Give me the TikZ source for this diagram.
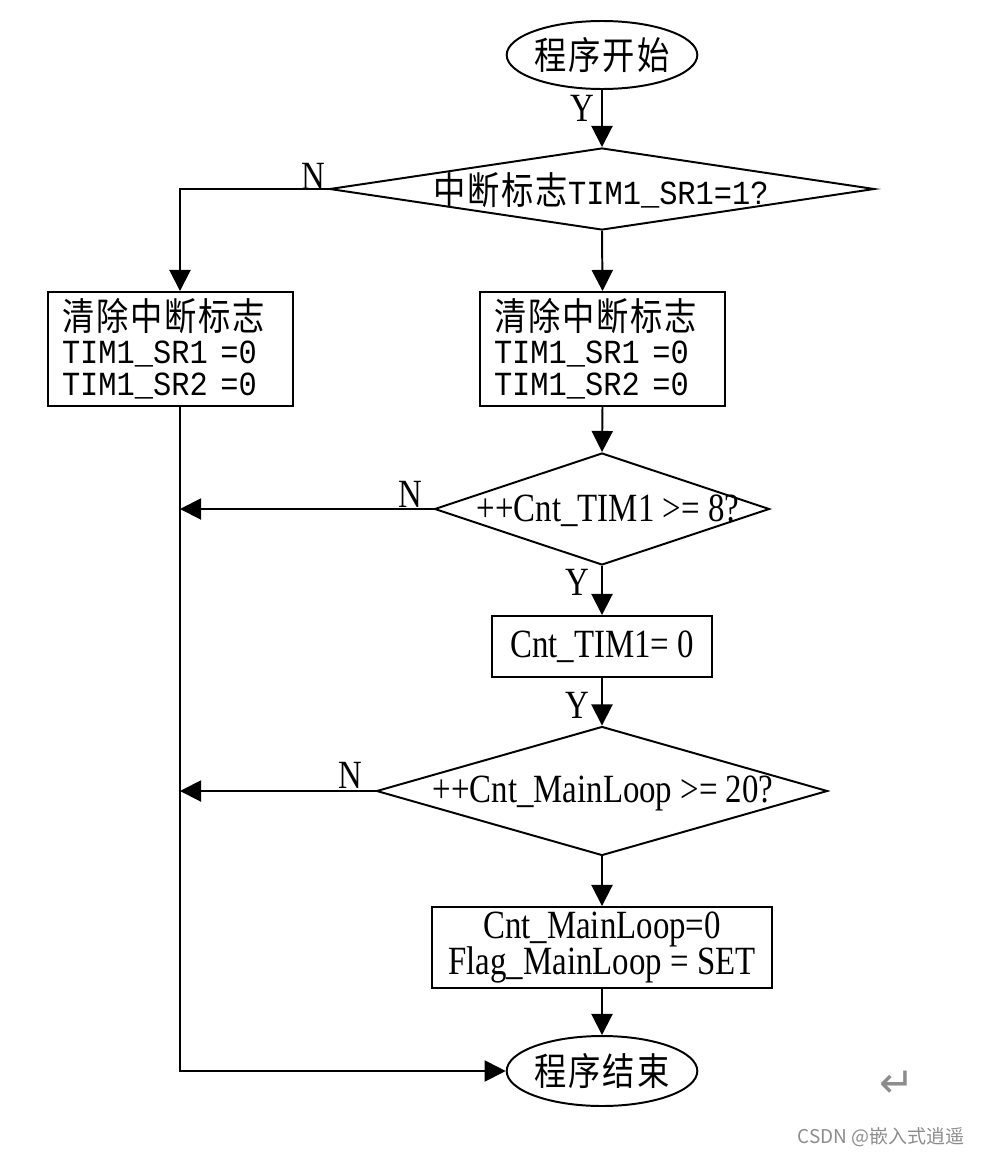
\documentclass[tikz,border=0pt]{standalone}
\usepackage{fontspec}
\setmainfont{Liberation Serif}
\newfontfamily\cjk[FakeStretch=0.85,LetterSpace=5]{Noto Sans CJK SC}
\newfontfamily\tnr[FakeStretch=0.82]{Liberation Serif}
\newfontfamily\monoft[FakeStretch=0.9]{Liberation Mono}
\newfontfamily\wmfont{Noto Sans CJK SC}
\newfontfamily\dvs{DejaVu Sans}
\newcommand\regtext{\monoft\fontsize{24}{24}\selectfont}
\usetikzlibrary{shapes.geometric,arrows.meta}
\newlength\px
\setlength\px{0.025cm}

\begin{document}
\begin{tikzpicture}[x=0.025cm,y=-0.025cm,
    line width=1.4pt,
    >={Triangle[length=15pt,width=15pt]},
    term/.style={draw,ellipse,inner sep=0pt,minimum width=185\px,minimum height=68\px,
      font=\cjk\fontsize{27}{27}\selectfont},
    dia/.style={draw,diamond,inner sep=0pt},
    proc/.style={draw,rectangle,inner sep=0pt,font=\tnr\fontsize{28.5}{26}\selectfont},
    clrbox/.style={draw,rectangle,inner xsep=14\px,inner ysep=0pt,text width=217\px,
      minimum height=114\px,align=left,font=\fontsize{27}{23}\selectfont},
    dtext/.style={inner sep=0pt,font=\tnr\fontsize{28.5}{28.5}\selectfont},
    lab/.style={inner sep=0pt,font=\tnr\fontsize{28.5}{28.5}\selectfont}]
  \useasboundingbox (0,0) rectangle (981,1157);

      \node[term] (start) at (602,55) {程序开始};

      \node[dia,minimum width=545\px,minimum height=82\px] (d1) at (602,189) {};
      \node[dtext,font=\fontsize{27}{27}\selectfont] (d1t) at (601,190) {{\cjk 中断标志}{\regtext TIM1\_SR1=1?}};

      \node[clrbox] (lbox) at (170.5,349) {{\cjk 清除中断标志}\\{\regtext TIM1\_SR1 =0}\\{\regtext TIM1\_SR2 =0}};
      \node[clrbox] (rbox) at (602.5,349) {{\cjk 清除中断标志}\\{\regtext TIM1\_SR1 =0}\\{\regtext TIM1\_SR2 =0}};

      \node[dia,minimum width=335\px,minimum height=112\px] (d2) at (602,509) {};
      \node[dtext] (d2t) at (608,511) {++Cnt\_TIM1 >= 8?};

      \node[proc,minimum width=220\px,minimum height=61\px] (cbox) at (602,646.5) {Cnt\_TIM1= 0};

      \node[dia,minimum width=451\px,minimum height=129\px] (d3) at (602,791) {};
      \node[dtext] (d3t) at (603,793) {++Cnt\_MainLoop >= 20?};

      \node[proc,minimum width=340\px,minimum height=81\px,align=center] (mbox) at (602,947.5) {Cnt\_MainLoop=0\\Flag\_MainLoop = SET};

      \node[term,minimum height=70\px] (stop) at (602,1071) {程序结束};

      \coordinate (bus) at (180,1071);

      \node[lab] (y1) at (582,108) {Y};
      \node[lab] (n1) at (313,176) {N};
      \node[lab] (n2) at (410,494) {N};
      \node[lab] (y2) at (577,582) {Y};
      \node[lab] (y3) at (577,705) {Y};
      \node[lab] (n3) at (350,775) {N};

      \node[text=black!45,inner sep=0pt,font=\dvs\fontsize{30}{30}\selectfont] (ret) at (897,1084) {↵};
      \node[text=black!45,inner sep=0pt,font=\wmfont\fontsize{13.5}{13.5}\selectfont] (wm) at (881,1137) {CSDN @嵌入式逍遥};

      \draw [->] (start.south)   to (d1.north);
      \draw [->] (d1.west)       -| (lbox.north -| bus);
      \draw [->] (d1.south)      to (rbox.north);
      \draw [->] (lbox.south -| bus) |- (stop.west);
      \draw [->] (rbox.south)    to (d2.north);
      \draw [->] (d2.west)       to (d2.west -| bus);
      \draw [->] (d2.south)      to (cbox.north);
      \draw [->] (cbox.south)    to (d3.north);
      \draw [->] (d3.west)       to (d3.west -| bus);
      \draw [->] (d3.south)      to (mbox.north);
      \draw [->] (mbox.south)    to (stop.north);
\end{tikzpicture}
\end{document}
